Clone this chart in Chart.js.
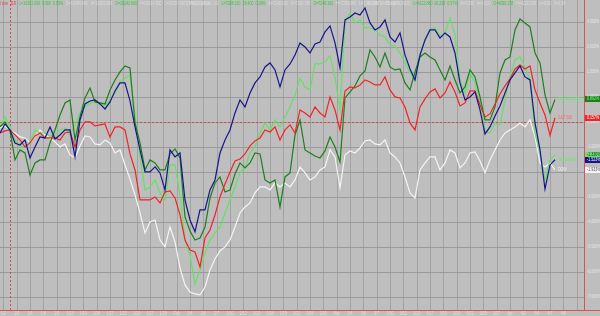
<!DOCTYPE html>
<html>
<head>
<meta charset="utf-8">
<script src="https://cdn.jsdelivr.net/npm/chart.js@4.4.1/dist/chart.umd.min.js"></script>
<style>
  html, body { margin: 0; padding: 0; background: #bebebe; }
  #wrap { width: 600px; height: 316px; }
</style>
</head>
<body>
<div id="wrap"><canvas id="chart"></canvas></div>
<script>
// one label per grid column (30 min bars, ~1.6 sessions per column)
const colLabels = ["1/2","1/3","1/6","1/8","1/9","1/13","1/14","1/16","1/17","1/22","1/23","1/27","1/29",
  "Feb","2/4","2/6","2/7","2/10","2/12","2/13","2/18","2/19","2/21","2/24","2/26",
  "Mar","3/4","3/6","3/7","3/10","3/12","3/13","3/17","3/18","3/20","3/21","3/25","3/27",
  "Apr","4/2","4/4","4/7","4/8"];

// % change, sampled every 0.375 column
const nasdaq = [-0.45,-0.09,-0.33,-0.85,-0.93,-0.73,-1.45,-1.01,-0.61,-0.65,
  -0.21,-0.69,-0.53,-0.33,-0.33,-1.41,0.07,0.71,0.83,0.87,
  0.71,0.51,0.79,1.23,1.55,1.55,0.83,-0.21,-1.13,-2.01,
  -2.01,-1.81,-2.05,-2.73,-1.13,-1.41,-1.25,-3.13,-3.93,-4.40,
  -3.53,-3.53,-2.73,-2.33,-1.25,-0.73,-0.33,0.35,0.87,0.59,
  1.15,1.55,1.79,2.19,2.35,2.07,1.39,2.07,2.31,2.67,
  3.15,2.99,2.75,3.11,3.19,3.59,3.83,3.15,2.15,4.07,
  4.19,4.35,4.27,4.55,3.95,3.67,3.79,4.07,3.39,3.19,
  3.55,2.67,2.11,1.67,2.67,3.27,3.67,3.67,3.35,3.55,
  3.39,2.75,1.55,0.87,0.99,1.19,0.47,-0.49,-0.21,0.23,
  0.63,1.15,1.67,1.95,2.23,1.79,1.67,-0.05,-1.13,-2.70,
  -1.73,-1.523];
const sp500 = [-0.45,-0.37,-0.33,-0.53,-0.73,-1.01,-0.85,-0.57,-0.45,-0.65,
  -0.65,-0.65,-0.73,-0.45,-0.41,-1.01,-0.33,-0.01,-0.01,-0.17,
  -0.13,-0.09,-0.61,-0.21,-0.21,-0.33,-1.29,-1.93,-3.13,-3.13,
  -3.13,-3.01,-3.25,-2.81,-2.77,-3.05,-3.73,-4.73,-5.13,-5.21,
  -5.81,-4.65,-4.33,-3.73,-3.01,-2.49,-2.01,-1.57,-1.49,-1.29,
  -0.97,-0.77,-0.65,-0.33,-0.41,-0.21,-0.73,-0.33,-0.13,-0.45,
  0.47,0.35,0.19,0.59,0.35,0.19,0.99,0.47,-0.33,1.23,
  1.39,1.35,1.47,1.67,1.59,1.47,1.47,1.79,1.27,0.99,
  0.95,0.59,-0.05,-0.33,0.59,0.91,1.19,1.31,0.95,1.15,
  1.59,1.19,0.63,0.75,1.23,1.23,0.67,0.19,0.31,0.71,
  1.11,1.43,1.71,2.11,2.27,2.11,2.23,1.27,0.75,0.27,
  -0.55,0.157];
const transports = [-0.21,-0.01,-0.37,-1.53,-1.13,-1.25,-2.13,-1.65,-1.53,-1.53,
  -0.85,-0.33,0.27,0.75,0.87,-0.73,0.19,0.95,1.35,0.79,
  0.75,0.71,1.27,1.67,1.99,2.23,2.15,-0.05,-0.85,-1.93,
  -1.53,-1.65,-1.93,-1.93,-1.29,-1.09,-1.45,-3.81,-4.37,-4.73,
  -4.65,-4.21,-3.05,-2.45,-2.21,-2.81,-2.73,-2.09,-1.65,-1.85,
  -1.65,-1.25,-1.29,-2.33,-2.45,-2.33,-3.41,-2.21,-2.05,-0.53,
  0.07,-1.13,-1.25,-1.37,-1.45,-1.17,-0.61,-1.01,-1.61,0.95,
  1.19,1.43,1.83,2.03,2.87,2.59,2.19,2.75,2.19,2.07,
  2.11,1.55,1.27,1.99,2.59,2.75,2.59,2.47,2.07,1.67,
  2.23,1.67,1.15,1.39,2.07,1.79,0.99,0.07,0.07,0.59,
  1.95,2.47,2.59,3.67,4.11,3.95,3.79,2.75,2.35,1.07,
  0.35,0.892];
const russell = [-0.21,0.19,-0.21,-0.73,-1.01,-1.01,-0.81,-0.33,-0.45,-0.45,
  -0.57,-0.53,-0.33,-0.25,-0.53,-0.13,0.35,0.59,0.75,0.79,
  0.67,0.63,0.87,1.15,1.59,1.75,1.87,0.27,-1.41,-2.73,
  -2.61,-2.33,-2.85,-3.13,-1.73,-1.73,-2.93,-4.73,-5.33,-6.50,
  -5.93,-5.25,-4.73,-4.45,-4.21,-3.65,-3.13,-2.61,-2.05,-1.81,
  -1.25,-1.01,-0.45,-0.05,-0.33,0.07,-0.21,0.19,0.59,1.07,
  1.75,1.39,1.27,2.31,2.31,2.39,2.63,1.79,0.47,3.95,
  4.35,3.95,4.07,3.75,3.75,3.67,3.47,3.39,3.07,3.03,
  2.75,2.39,1.95,1.67,2.67,3.27,3.71,3.75,3.43,3.55,
  4.15,3.47,1.67,1.15,1.95,1.55,0.87,-0.37,-0.45,-0.05,
  -0.13,0.87,1.79,2.47,2.59,2.19,1.67,-0.45,-1.25,-2.33,
  -1.53,-1.33];
const dow = [-0.25,-0.17,-0.33,-0.45,-0.61,-0.65,-0.85,-0.61,-0.33,-0.53,
  -0.65,-0.81,-1.01,-0.89,-1.33,-1.45,-0.97,-0.57,-0.61,-0.89,
  -0.93,-0.73,-0.85,-1.25,-1.13,-1.73,-2.29,-2.93,-3.65,-4.45,
  -4.01,-3.93,-4.73,-5.01,-4.21,-4.81,-5.85,-6.53,-6.81,-6.89,
  -6.93,-6.61,-5.93,-5.49,-5.17,-5.01,-4.73,-4.21,-3.65,-3.41,
  -3.25,-2.85,-2.61,-2.61,-2.73,-2.45,-2.61,-2.45,-2.61,-2.33,
  -1.81,-2.05,-2.33,-2.21,-1.93,-1.81,-1.13,-1.41,-2.65,-1.33,
  -1.17,-1.25,-1.05,-0.77,-0.73,-0.89,-0.93,-0.73,-1.25,-1.41,
  -1.65,-2.21,-2.85,-3.05,-1.93,-1.65,-1.41,-1.41,-1.93,-1.65,
  -1.13,-1.25,-1.85,-1.65,-1.25,-1.21,-1.57,-2.05,-1.53,-1.13,
  -0.73,-0.45,-0.33,-0.21,-0.05,-0.21,0.07,-0.61,-1.65,-1.81,
  -1.65,-1.933];

const yTicks = [4,3,2,1,0,-1,-2,-3,-4,-5,-6,-7];
const sessionBreak = 0.5;   // red dashed separator, in columns

// header strip: [text, colour]
const headerDow = [["30 min","#e23a3a"],["DJI","#e23a3a"],["L=16302.000  8.900  0.05%","#33cc33"],["B=16294.990","#dadada"],
  ["A=16305.580","#dadada"],["O=16243.600","#33cc33"],["H=16314.950","#dadada"],["L=16237.490","#dadada"],["V=1,299,603","#dadada"]];
const headerTran = [["$TRAN : 30 min  US","#dadada"],["L=7288.130  18.400  0.08%","#33cc33"],["B=7248.030","#dadada"],["A=7288.380","#dadada"],
  ["O=7248.160","#33cc33"],["H=7290.880","#dadada"],["L=7180.250","#dadada"],["V=753,889","#dadada"]];
const headerComp = [["$COMPX : 30 min  NASDQ","#dadada"],["L=4112.880  20.233  0.57%","#33cc33"],["B=0.000","#dadada"],["A=0.000","#dadada"],
  ["O=4090.178","#33cc33"],["H=4120.238","#dadada"],["L=4066","#dadada"],["V=2.38","#dadada"]];

const X0 = -0.25, STEP = 0.375;
const toPts = arr => arr.map((v, i) => ({ x: X0 + STEP * i, y: v }));

const series = [
  { data: nasdaq, color: "#15158a", box: "#15158a", boxText: "#ffffff", name: "Nasdaq100", nameColor: "#66ee66" },
  { data: sp500, color: "#f02424", box: "#f02424", boxText: "#ffffff", name: "S&P 500", nameColor: "#ff6a6a" },
  { data: transports, color: "#1c7f1c", box: "#1c7f1c", boxText: "#88ff88", name: "TRANSPORTS", nameColor: "#66ee66" },
  { data: russell, color: "#66e066", box: "#66e066", boxText: "#114411", name: "", nameColor: "" },
  { data: dow, color: "#f4f4f4", box: "#f4f4f4", boxText: "#555555", name: "DOW", nameColor: "#f4f4f4" }
];

const FONT = "4.6px 'Liberation Sans'";
const SQUEEZE = 0.78;
function txt(ctx, s, x, y, color, align) {
  ctx.save();
  ctx.font = FONT;
  ctx.fillStyle = color;
  ctx.textBaseline = "middle";
  const w = ctx.measureText(s).width * SQUEEZE;
  let sx = x;
  if (align === "center") sx = x - w / 2;
  if (align === "right") sx = x - w;
  ctx.translate(sx, y);
  ctx.scale(SQUEEZE, 1);
  ctx.fillText(s, 0, 0);
  ctx.restore();
  return w;
}

const decor = {
  id: "decor",
  beforeDatasetsDraw(chart) {
    const { ctx, chartArea: a, scales: { x, y } } = chart;
    ctx.save();
    ctx.strokeStyle = "#a2a2a2";
    ctx.lineWidth = 1;
    for (let k = Math.ceil(x.min); k <= x.max; k++) {
      const px = Math.round(x.getPixelForValue(k)) + 0.5;
      ctx.beginPath(); ctx.moveTo(px, a.top); ctx.lineTo(px, a.bottom); ctx.stroke();
    }
    ctx.strokeStyle = "#9a9a9a";
    yTicks.forEach(v => {
      const py = Math.round(y.getPixelForValue(v)) + 0.5;
      ctx.beginPath(); ctx.moveTo(a.left, py); ctx.lineTo(a.right, py); ctx.stroke();
    });
    // zero line and session separator, dashed red
    ctx.strokeStyle = "#d84a4a";
    ctx.setLineDash([2, 2]);
    const zy = Math.round(y.getPixelForValue(0)) + 0.5;
    ctx.beginPath(); ctx.moveTo(a.left, zy); ctx.lineTo(a.right, zy); ctx.stroke();
    const sx = Math.round(x.getPixelForValue(sessionBreak)) + 0.5;
    ctx.beginPath(); ctx.moveTo(sx, a.top); ctx.lineTo(sx, a.bottom); ctx.stroke();
    ctx.restore();
  },
  afterDatasetsDraw(chart) {
    const { ctx, chartArea: a, scales: { x, y } } = chart;
    ctx.save();
    // header
    const flow = (parts, start) => {
      let cx = start;
      parts.forEach(([s, c]) => { cx += txt(ctx, s, cx, 4, c) + 3; });
    };
    flow(headerDow, -3);
    flow(headerTran, 186);
    flow(headerComp, 367);

    // right scale
    yTicks.forEach(v => txt(ctx, v.toFixed(3) + "%", a.right + 3, y.getPixelForValue(v), "#e6e6e6"));

    // names at line ends, value boxes on the scale
    series.slice().reverse().forEach(s => {
      const last = s.data[s.data.length - 1];
      const px = x.getPixelForValue(X0 + STEP * (s.data.length - 1));
      const py = y.getPixelForValue(last);
      if (s.name) txt(ctx, s.name, px + 3, py, s.nameColor);
      ctx.fillStyle = s.box;
      ctx.fillRect(a.right + 1, Math.round(py) - 3, 16, 6);
      txt(ctx, last.toFixed(3) + "%", a.right + 3, Math.round(py), s.boxText);
    });

    // borders
    ctx.strokeStyle = "#e05050";
    ctx.lineWidth = 1;
    ctx.beginPath();
    ctx.moveTo(a.right + 0.5, 0); ctx.lineTo(a.right + 0.5, a.bottom + 0.5);
    ctx.moveTo(0, a.bottom + 0.5); ctx.lineTo(600, a.bottom + 0.5);
    ctx.stroke();

    // column labels
    colLabels.forEach((s, k) => txt(ctx, s, x.getPixelForValue(k), a.bottom + 3.5, "#e0e0e0", "center"));
    ctx.restore();
  }
};

new Chart(document.getElementById("chart"), {
  type: "line",
  data: {
    datasets: series.map(s => ({
      data: toPts(s.data),
      borderColor: s.color,
      borderWidth: 1.2,
      pointRadius: 0,
      tension: 0,
      fill: false
    }))
  },
  options: {
    animation: false,
    responsive: true,
    maintainAspectRatio: false,
    devicePixelRatio: 1,
    layout: { padding: { left: 0, right: 16, top: 0, bottom: 6 } },
    plugins: { legend: { display: false }, tooltip: { enabled: false } },
    scales: {
      x: { type: "linear", min: -0.25, max: 43.55, display: false },
      y: { min: -7.532, max: 4.868, display: false }
    }
  },
  plugins: [decor]
});
</script>
</body>
</html>
